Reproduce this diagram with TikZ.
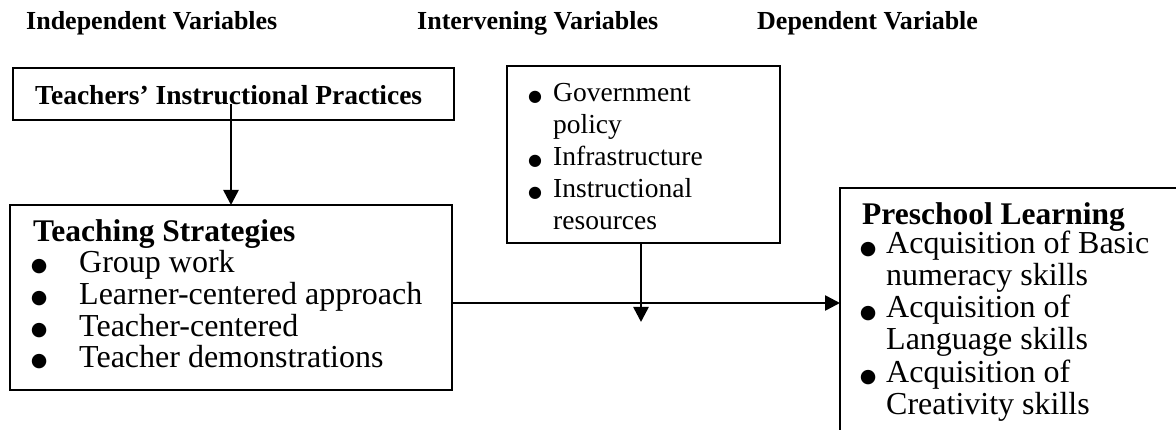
\documentclass[tikz,border=0pt]{standalone}
\usepackage{fontspec}
\setmainfont{Liberation Serif}
\newfontfamily\dejavu{DejaVu Sans}
\usetikzlibrary{arrows.meta}
\newlength\mybulht
% #1 bullet font size, #2 dot top above baseline, #3 distance from bullet centre to text
\newcommand\mybul[3]{\makebox[#3][l]{\settoheight{\mybulht}{\dejavu\fontsize{#1}{#1}\selectfont ●}%
  \makebox[0pt]{\raisebox{\dimexpr #2-\mybulht\relax}[0pt][0pt]{\dejavu\fontsize{#1}{#1}\selectfont ●}}}}
\begin{document}
\begin{tikzpicture}[x=1pt,y=-1pt,
  box/.style={draw, line width=2pt, inner sep=0pt, outer sep=0pt},
  conn/.style={line width=2.6pt, -{Triangle[length=15pt,width=15pt]}},
  hdr/.style={font=\fontsize{26}{26}\selectfont\bfseries, anchor=base west, inner sep=0pt},
  ttl/.style={font=\fontsize{31.5}{31.5}\selectfont\bfseries, anchor=base west, inner sep=0pt},
  tbx/.style={font=\fontsize{27.5}{27.5}\selectfont\bfseries, anchor=base west, inner sep=0pt},
  big/.style={font=\fontsize{32}{32}\selectfont, anchor=base west, inner sep=0pt},
  small/.style={font=\fontsize{27.5}{27.5}\selectfont, anchor=base west, inner sep=0pt}]
\clip (0,0) rectangle (1176,430);
\fill[white] (0,0) rectangle (1176,430);

% headers
\node[hdr] (h1) at (26,30) {Independent Variables};
\node[hdr] (h2) at (417,30) {Intervening Variables};
\node[hdr] (h3) at (757,30) {Dependent Variable};

% top box
\node[box, minimum width=441pt, minimum height=52pt] (tip) at (233.5,94) {};
\node[tbx] (tipt) at (35,105) {Teachers’ Instructional Practices};

% teaching strategies box
\node[box, minimum width=442pt, minimum height=185pt] (ts) at (231,297.5) {};
\node[ttl] (tst) at (33,242) {Teaching Strategies};
\node[big] (ts1) at (39,273) {\mybul{19}{13.5pt}{40pt}Group work};
\node[big] (ts2) at (39,305) {\mybul{19}{13.5pt}{40pt}Learner-centered approach};
\node[big] (ts3) at (39,337) {\mybul{19}{13.5pt}{40pt}Teacher-centered};
\node[big] (ts4) at (39,368) {\mybul{19}{13.5pt}{40pt}Teacher demonstrations};

% intervening box
\node[box, minimum width=273pt, minimum height=177pt] (iv) at (643.5,154.5) {};
\node[small] (iv1) at (535,102) {\mybul{16}{10.7pt}{18pt}Government};
\node[small] (iv2) at (553,134) {policy};
\node[small] (iv3) at (535,166) {\mybul{16}{10.7pt}{18pt}Infrastructure};
\node[small] (iv4) at (535,198) {\mybul{16}{10.7pt}{18pt}Instructional};
\node[small] (iv5) at (553,230) {resources};

% preschool learning box
\node[box, minimum width=360pt, minimum height=270pt] (pl) at (1020,323) {};
\node[ttl] (plt) at (862,225) {Preschool Learning};
\node[big] (pl1) at (868,254) {\mybul{19}{12pt}{18pt}Acquisition of Basic};
\node[big] (pl2) at (886,286) {numeracy skills};
\node[big] (pl3) at (868,318) {\mybul{19}{12pt}{18pt}Acquisition of};
\node[big] (pl4) at (886,350) {Language skills};
\node[big] (pl5) at (868,382) {\mybul{19}{12pt}{18pt}Acquisition of};
\node[big] (pl6) at (886,414) {Creativity skills};

% connectors
\coordinate (a1s) at (231,104);
\coordinate (hl) at (452,303);
\coordinate (v2) at (641,322);
\draw[conn] (a1s) -- (a1s |- ts.north);
\draw[conn] (ts.east |- hl) -- (pl.west |- hl);
\draw[conn] (iv.south -| v2) -- (v2);
\end{tikzpicture}
\end{document}
